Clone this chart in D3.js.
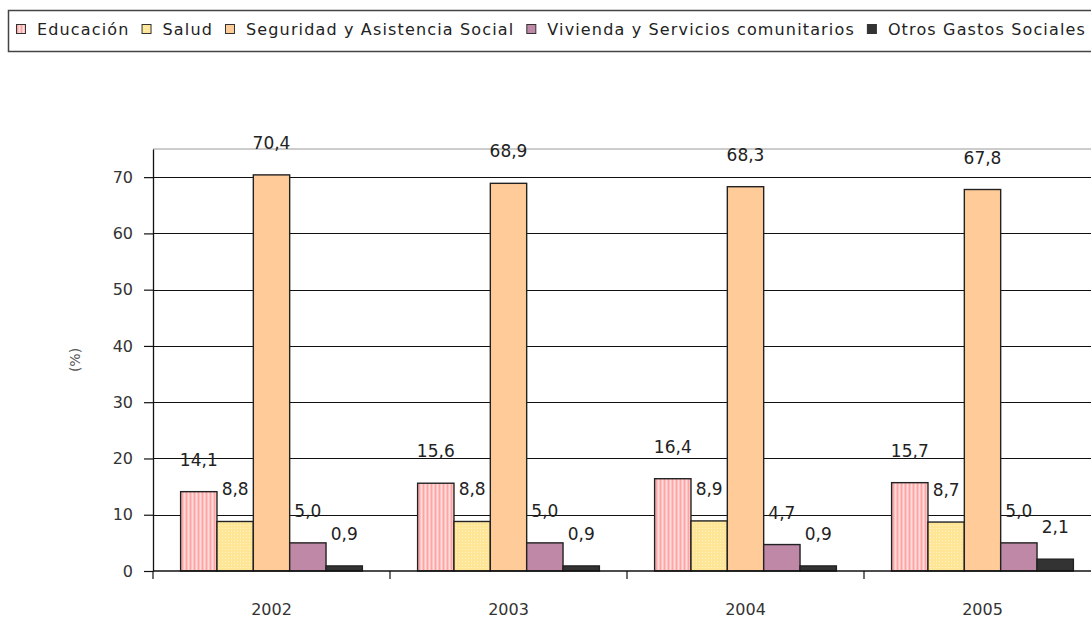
<!DOCTYPE html>
<html>
<head>
<meta charset="utf-8">
<script src="https://cdn.jsdelivr.net/npm/d3@7"></script>
<style>
  body { margin: 0; background: #fff; }
  svg { display: block; font-family: "DejaVu Sans", sans-serif; }
</style>
</head>
<body>
<div id="chart"></div>
<script>
// data
const years = ['2002', '2003', '2004', '2005'];
const seriesNames = ['Educación', 'Salud', 'Seguridad y Asistencia Social', 'Vivienda y Servicios comunitarios', 'Otros Gastos Sociales'];
const educacion = [14.1, 15.6, 16.4, 15.7];
const salud = [8.8, 8.8, 8.9, 8.7];
const seguridad = [70.4, 68.9, 68.3, 67.8];
const vivienda = [5.0, 5.0, 4.7, 5.0];
const otros = [0.9, 0.9, 0.9, 2.1];
const yTicks = [0, 10, 20, 30, 40, 50, 60, 70];

const values = [educacion, salud, seguridad, vivienda, otros];
const fills = ['url(#stripes)', 'url(#dots)', '#FFCC99', '#BE88A6', '#333333'];

const width = 1091, height = 618;
const margin = { top: 149, left: 153, bottom: 47 };
const plotRight = 1101; // the plot runs past the picture's right edge

const svg = d3.select('#chart').append('svg')
  .attr('width', width)
  .attr('height', height);

// patterns for the first two series
const defs = svg.append('defs');
const stripes = defs.append('pattern')
  .attr('id', 'stripes')
  .attr('patternUnits', 'userSpaceOnUse')
  .attr('width', 4).attr('height', 4);
stripes.append('rect').attr('width', 4).attr('height', 4).attr('fill', '#FFC2C2');
stripes.append('rect').attr('x', 1).attr('width', 1).attr('height', 4).attr('fill', '#FFA3A3');
stripes.append('rect').attr('x', 3).attr('width', 1).attr('height', 4).attr('fill', '#FFDCDC');

const dots = defs.append('pattern')
  .attr('id', 'dots')
  .attr('patternUnits', 'userSpaceOnUse')
  .attr('width', 3).attr('height', 3);
dots.append('rect').attr('width', 3).attr('height', 3).attr('fill', '#FFE596');
dots.append('rect').attr('width', 1).attr('height', 1).attr('fill', '#FFF2C4');

const y = d3.scaleLinear()
  .domain([0, 75])
  .range([height - margin.bottom, margin.top]);

const x0 = d3.scaleBand()
  .domain(years)
  .range([margin.left, plotRight]);

const x1 = d3.scaleBand()
  .domain(seriesNames)
  .range([0, x0.bandwidth()])
  .paddingInner(0)
  .paddingOuter(0.76);

const fmt = v => d3.format('.1f')(v).replace('.', ',');

// plot frame top + gridlines
svg.append('line')
  .attr('x1', margin.left).attr('x2', plotRight)
  .attr('y1', y(75)).attr('y2', y(75))
  .attr('stroke', '#9a9a9a').attr('stroke-width', 1);

svg.append('g')
  .selectAll('line')
  .data(yTicks.filter(d => d > 0))
  .join('line')
  .attr('x1', margin.left).attr('x2', plotRight)
  .attr('y1', d => Math.round(y(d)) + 0.5).attr('y2', d => Math.round(y(d)) + 0.5)
  .attr('stroke', '#111').attr('stroke-width', 1.2);

// y axis
const yAxis = svg.append('g')
  .attr('transform', `translate(${margin.left},0)`)
  .call(d3.axisLeft(y).tickValues(yTicks).tickSize(9).tickPadding(11).tickSizeOuter(0));
yAxis.select('.domain').attr('stroke', '#111').attr('stroke-width', 1.3);
yAxis.selectAll('.tick line').attr('stroke', '#111').attr('stroke-width', 1.2);
yAxis.selectAll('.tick text')
  .attr('font-size', 16)
  .attr('fill', '#333')
  .attr('font-family', '"DejaVu Sans", sans-serif');

svg.append('text')
  .attr('transform', `translate(80,${y(37.5)}) rotate(-90)`)
  .attr('text-anchor', 'middle')
  .attr('font-size', 14)
  .attr('fill', '#555')
  .text('(%)');

// bars
const groups = svg.append('g')
  .selectAll('g')
  .data(years)
  .join('g')
  .attr('transform', d => `translate(${x0(d)},0)`);

groups.selectAll('rect')
  .data((yr, i) => seriesNames.map((s, j) => ({ s, j, v: values[j][i] })))
  .join('rect')
  .attr('x', d => x1(d.s))
  .attr('y', d => y(d.v))
  .attr('width', x1.bandwidth())
  .attr('height', d => y(0) - y(d.v))
  .attr('fill', d => fills[d.j])
  .attr('stroke', '#222')
  .attr('stroke-width', 1.4);

groups.selectAll('text.val')
  .data((yr, i) => seriesNames.map((s, j) => ({ s, j, v: values[j][i] })))
  .join('text')
  .attr('class', 'val')
  .attr('x', d => x1(d.s) + x1.bandwidth() / 2)
  .attr('y', d => y(d.v) - 26)
  .attr('text-anchor', 'middle')
  .attr('font-size', 17)
  .attr('fill', '#222')
  .text(d => fmt(d.v));

// x axis
const xAxis = svg.append('g')
  .attr('transform', `translate(0,${y(0)})`);
xAxis.append('line')
  .attr('x1', margin.left).attr('x2', plotRight)
  .attr('stroke', '#111').attr('stroke-width', 1.3);
xAxis.selectAll('line.tk')
  .data(years.concat(['end']))
  .join('line')
  .attr('class', 'tk')
  .attr('x1', (d, i) => margin.left + i * x0.step())
  .attr('x2', (d, i) => margin.left + i * x0.step())
  .attr('y1', 0).attr('y2', 8)
  .attr('stroke', '#111').attr('stroke-width', 1.2);
xAxis.selectAll('text')
  .data(years)
  .join('text')
  .attr('x', d => x0(d) + x0.bandwidth() / 2)
  .attr('y', 44)
  .attr('text-anchor', 'middle')
  .attr('font-size', 16)
  .attr('fill', '#333')
  .text(d => d);

// legend
const legend = svg.append('g');
legend.append('rect')
  .attr('x', 8.5).attr('y', 10.5)
  .attr('width', 1200).attr('height', 41)
  .attr('fill', '#fff')
  .attr('stroke', '#444').attr('stroke-width', 1.5);

let lx = 16;
seriesNames.forEach((name, i) => {
  legend.append('rect')
    .attr('x', lx + 0.5).attr('y', 24.5)
    .attr('width', 9).attr('height', 9)
    .attr('fill', fills[i])
    .attr('stroke', '#333').attr('stroke-width', 1);
  const t = legend.append('text')
    .attr('x', lx + 21)
    .attr('y', 35)
    .attr('font-size', 16)
    .attr('letter-spacing', 1.15)
    .attr('fill', '#222')
    .text(name);
  lx += 21 + t.node().getComputedTextLength() + 12;
});
</script>
</body>
</html>
